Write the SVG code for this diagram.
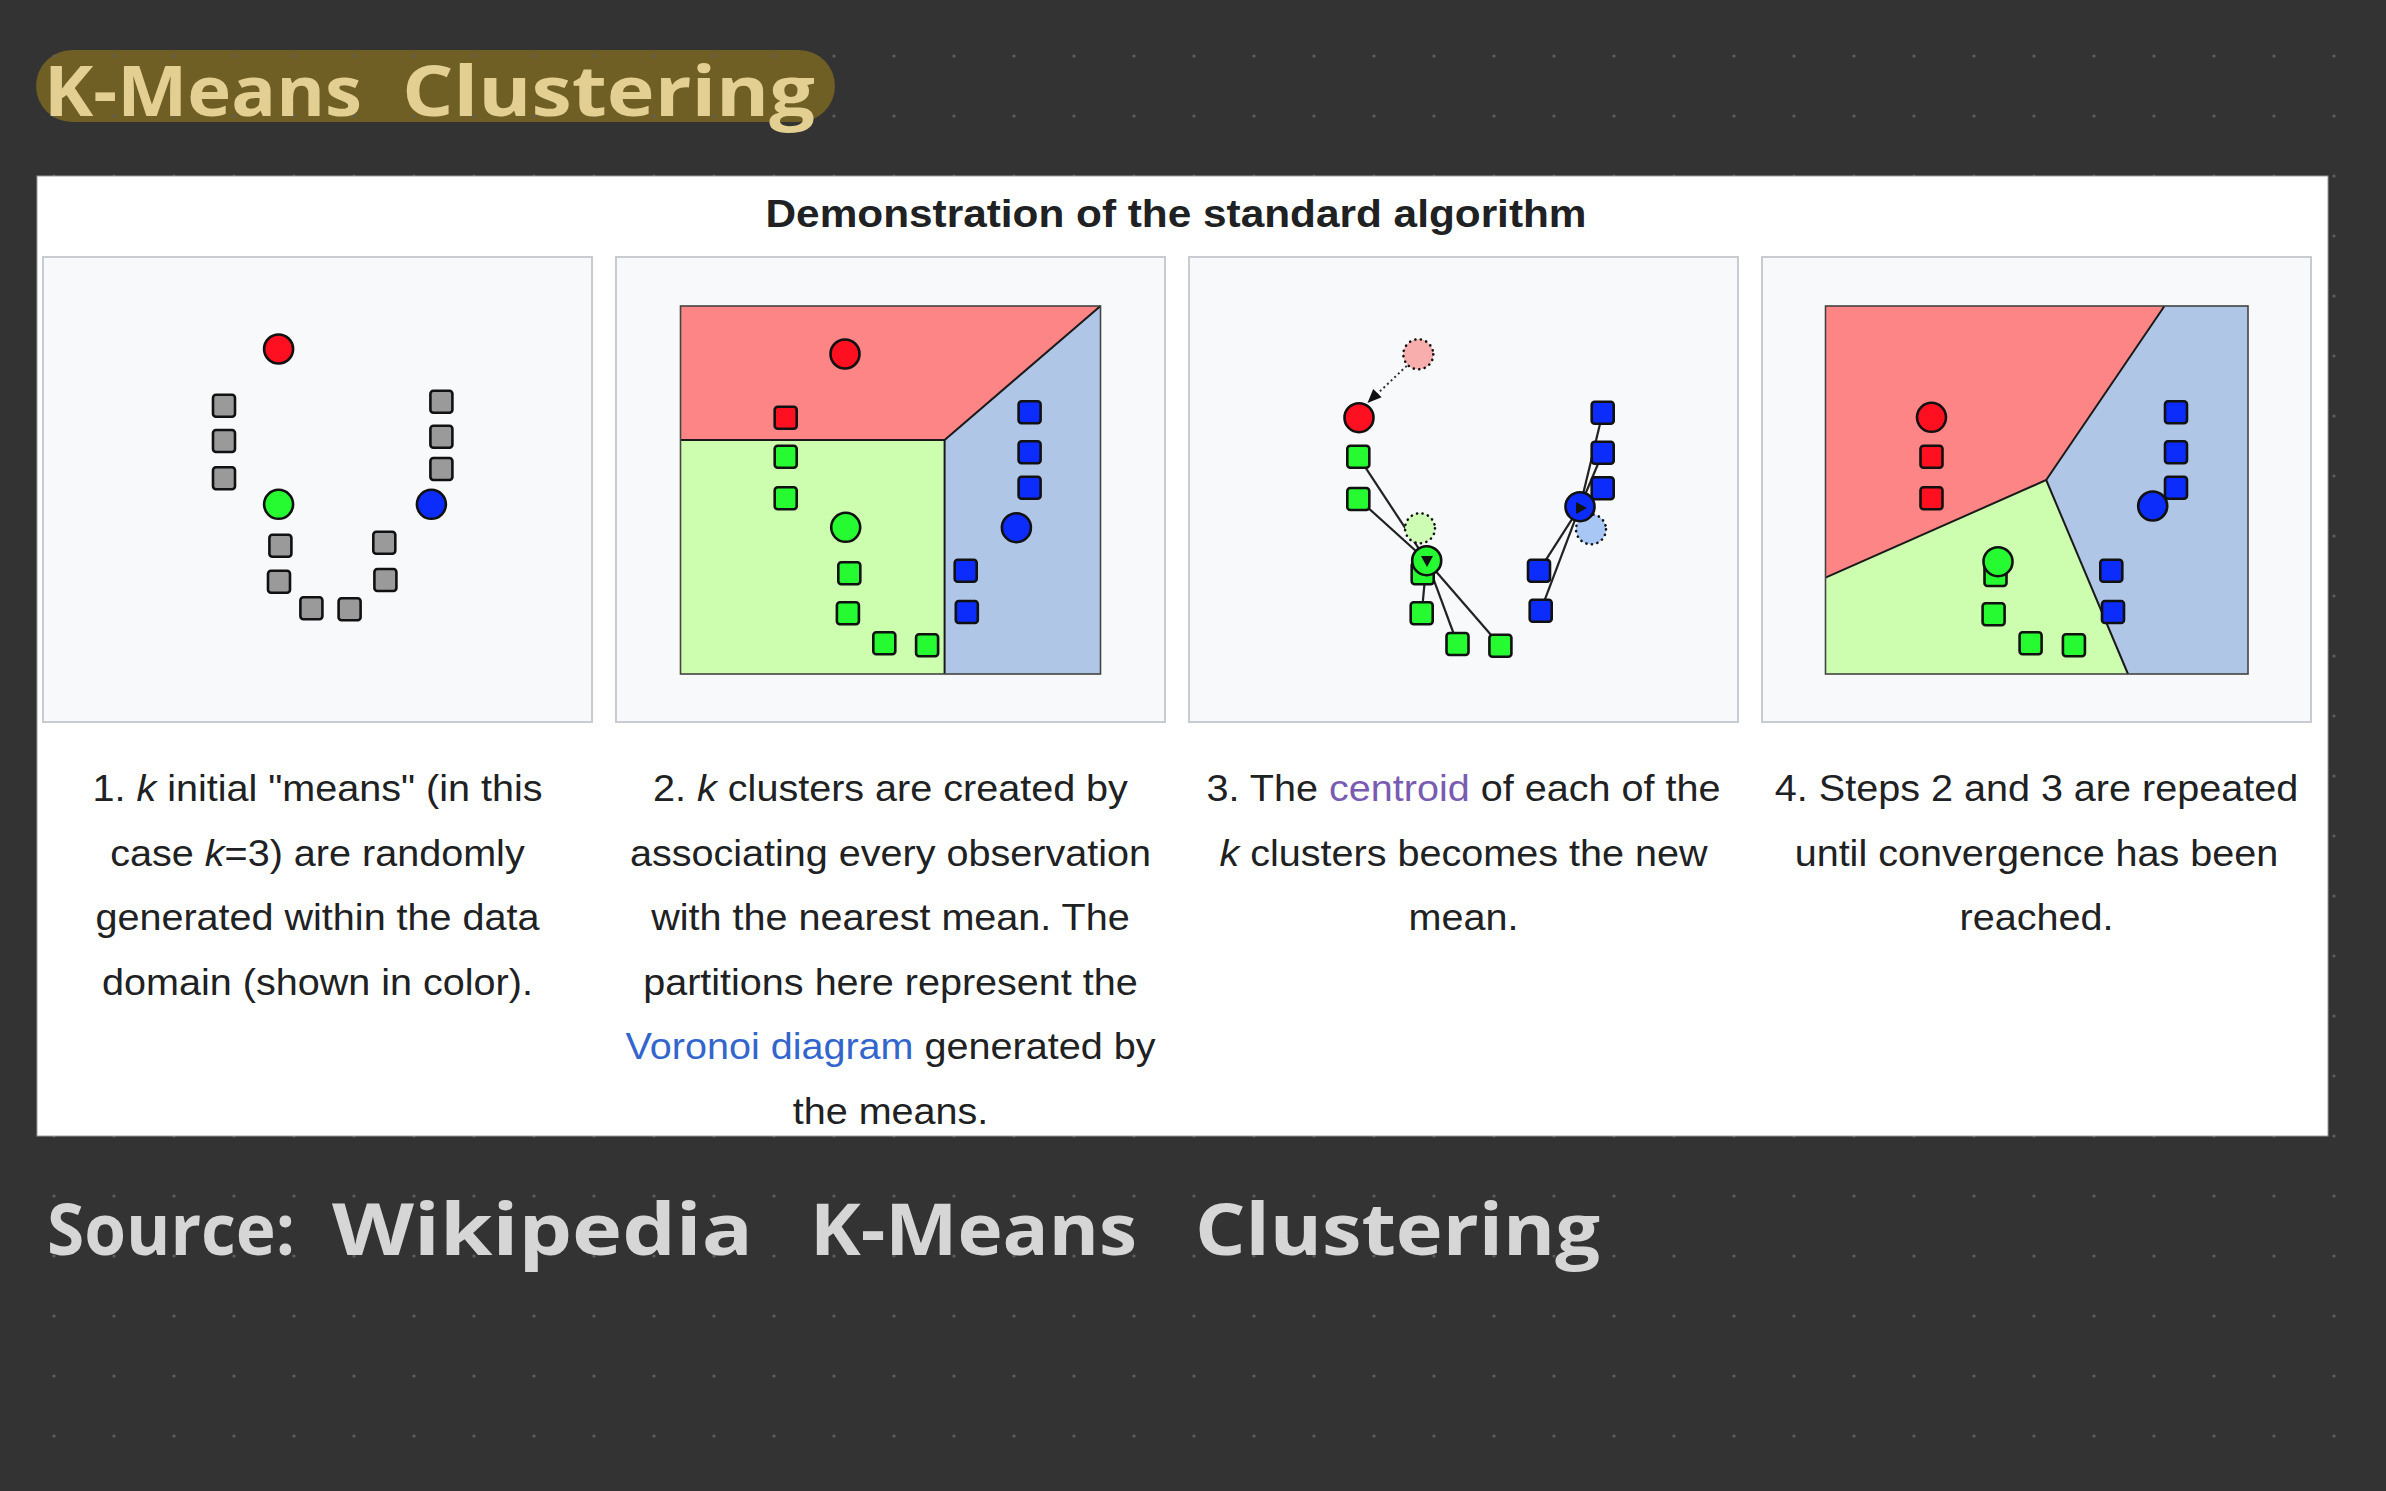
<svg xmlns="http://www.w3.org/2000/svg" width="2386" height="1491" viewBox="0 0 2386 1491">
<defs>
<style>
.hand{font-family:"Open Sans","DejaVu Sans",sans-serif;font-weight:700}
.cap{font-family:"Liberation Sans",Arial,sans-serif;font-size:37.5px;fill:#202122;text-anchor:middle}
.frame{fill:#f8f9fa;stroke:#c8ccd1;stroke-width:2}
.sq{stroke:#111;stroke-width:2.6}
.ct{stroke:#111;stroke-width:2.6}
.g{fill:#9a9a9a}.r{fill:#ff1020}.gr{fill:#25fb30}.b{fill:#0c2cfb}
.vr{fill:#fe8585}.vg{fill:#cdfdae}.vb{fill:#b0c6e6}
.vline{stroke:#1a1a1a;stroke-width:2;fill:none}
.vbox{fill:none;stroke:#444;stroke-width:1.6}
.link{stroke:#222;stroke-width:2.2}
.ghost{stroke:#111;stroke-width:2.6;stroke-dasharray:0.1 5.5;stroke-linecap:round}
</style>
<pattern id="dots" x="0" y="0" width="60" height="60" patternUnits="userSpaceOnUse">
<circle cx="54" cy="56" r="1.6" fill="#5e5e5e"/>
</pattern>
</defs>
<rect width="2386" height="1491" fill="#333333"/>
<rect x="36" y="50" width="799" height="72" rx="36" fill="#6f5f24"/>
<rect width="2386" height="1491" fill="url(#dots)"/>
<g id="header">
<text class="hand" y="116" font-size="70" fill="#e2cf91"><tspan x="44" textLength="318" lengthAdjust="spacingAndGlyphs">K-Means</tspan><tspan x="402" textLength="413" lengthAdjust="spacingAndGlyphs">Clustering</tspan></text>
</g>
<g id="card">
<rect x="37" y="176" width="2291" height="960" fill="#ffffff" stroke="#9a9a9a" stroke-width="1"/>
<text x="1176" y="227" font-family="'Liberation Sans',Arial,sans-serif" font-weight="700" font-size="39" fill="#202122" text-anchor="middle" textLength="821" lengthAdjust="spacingAndGlyphs">Demonstration of the standard algorithm</text>
</g>

<g id="panel1">
<rect class="frame" x="43" y="257" width="549" height="465"/>
<g class="sq g">
<rect x="213" y="394.7" width="22" height="22" rx="3"/>
<rect x="213" y="430" width="22" height="22" rx="3"/>
<rect x="213" y="467.3" width="22" height="22" rx="3"/>
<rect x="430.4" y="390.7" width="22" height="22" rx="3"/>
<rect x="430.4" y="425.7" width="22" height="22" rx="3"/>
<rect x="430.4" y="458" width="22" height="22" rx="3"/>
<rect x="269.4" y="534.7" width="22" height="22" rx="3"/>
<rect x="268" y="570.7" width="22" height="22" rx="3"/>
<rect x="300.4" y="597.3" width="22" height="22" rx="3"/>
<rect x="338.6" y="598.3" width="22" height="22" rx="3"/>
<rect x="373.3" y="531.7" width="22" height="22" rx="3"/>
<rect x="374.4" y="569" width="22" height="22" rx="3"/>
</g>
<circle class="ct r" cx="278.6" cy="349" r="14.5"/>
<circle class="ct gr" cx="278.6" cy="504.3" r="14.5"/>
<circle class="ct b" cx="431.4" cy="504.3" r="14.5"/>
</g>

<g id="panel2">
<rect class="frame" x="616" y="257" width="549" height="465"/>
<polygon class="vr" points="680.5,306 1100.5,306 944.6,440 680.5,440"/>
<polygon class="vg" points="680.5,440 944.6,440 944.6,674 680.5,674"/>
<polygon class="vb" points="1100.5,306 1100.5,674 944.6,674 944.6,440"/>
<polyline class="vline" points="680.5,440 944.6,440 1100.5,306"/>
<line class="vline" x1="944.6" y1="440" x2="944.6" y2="674"/>
<rect class="vbox" x="680.5" y="306" width="420" height="368"/>
<g class="sq">
<rect class="r" x="774.7" y="406.7" width="22" height="22" rx="3"/>
<rect class="gr" x="774.7" y="445.7" width="22" height="22" rx="3"/>
<rect class="gr" x="774.7" y="487.3" width="22" height="22" rx="3"/>
<rect class="gr" x="838.3" y="562.3" width="22" height="22" rx="3"/>
<rect class="gr" x="836.9" y="602.3" width="22" height="22" rx="3"/>
<rect class="gr" x="873.3" y="632.3" width="22" height="22" rx="3"/>
<rect class="gr" x="916.1" y="634.3" width="22" height="22" rx="3"/>
<rect class="b" x="1018.6" y="401.3" width="22" height="22" rx="3"/>
<rect class="b" x="1018.6" y="441.3" width="22" height="22" rx="3"/>
<rect class="b" x="1018.6" y="476.7" width="22" height="22" rx="3"/>
<rect class="b" x="954.7" y="559.7" width="22" height="22" rx="3"/>
<rect class="b" x="955.8" y="601" width="22" height="22" rx="3"/>
</g>
<circle class="ct r" cx="845" cy="354" r="14.5"/>
<circle class="ct gr" cx="845.7" cy="527.3" r="14.5"/>
<circle class="ct b" cx="1016.4" cy="527.7" r="14.5"/>
</g>

<g id="panel3">
<rect class="frame" x="1189" y="257" width="549" height="465"/>
</g>
<g id="connectors">
<line class="link" x1="1426.7" y1="560.7" x2="1358.3" y2="456.7"/>
<line class="link" x1="1426.7" y1="560.7" x2="1358.3" y2="499"/>
<line class="link" x1="1426.7" y1="560.7" x2="1421.7" y2="613.3"/>
<line class="link" x1="1426.7" y1="560.7" x2="1457.5" y2="644"/>
<line class="link" x1="1426.7" y1="560.7" x2="1500.4" y2="645.7"/>
<line class="link" x1="1580" y1="506.7" x2="1602.7" y2="412.7"/>
<line class="link" x1="1580" y1="506.7" x2="1602.7" y2="452.7"/>
<line class="link" x1="1580" y1="506.7" x2="1602.7" y2="488.3"/>
<line class="link" x1="1580" y1="506.7" x2="1539" y2="570.7"/>
<line class="link" x1="1580" y1="506.7" x2="1540.7" y2="610.7"/>
<line x1="1414" y1="359" x2="1375" y2="396" stroke="#333" stroke-width="2" stroke-dasharray="2 3"/>
<polygon points="1367.5,403 1381.6,397.3 1373.2,388.9" fill="#111"/>
</g>
<g id="panel3-points">
<circle class="ghost" cx="1418.3" cy="354.3" r="15" fill="#f9aeae"/>
<circle class="ghost" cx="1420" cy="528.3" r="15" fill="#cdfcb4"/>
<circle class="ghost" cx="1591" cy="529.3" r="15" fill="#a9c7f5"/>
<g class="sq">
<rect class="gr" x="1347.3" y="445.7" width="22" height="22" rx="3"/>
<rect class="gr" x="1347.3" y="488" width="22" height="22" rx="3"/>
<rect class="gr" x="1411.7" y="562.3" width="22" height="22" rx="3"/>
<rect class="gr" x="1410.7" y="602.3" width="22" height="22" rx="3"/>
<rect class="gr" x="1446.5" y="633" width="22" height="22" rx="3"/>
<rect class="gr" x="1489.4" y="634.7" width="22" height="22" rx="3"/>
<rect class="b" x="1591.7" y="401.7" width="22" height="22" rx="3"/>
<rect class="b" x="1591.7" y="441.7" width="22" height="22" rx="3"/>
<rect class="b" x="1591.7" y="477.3" width="22" height="22" rx="3"/>
<rect class="b" x="1528" y="559.7" width="22" height="22" rx="3"/>
<rect class="b" x="1529.7" y="599.7" width="22" height="22" rx="3"/>
</g>
<circle class="ct r" cx="1359" cy="417.7" r="14.5"/>
<circle class="ct gr" cx="1426.7" cy="560.7" r="14.5"/>
<circle class="ct b" cx="1580" cy="506.7" r="14.5"/>
<polygon points="1421,556 1433,556 1427,567" fill="#111"/>
<polygon points="1576,502 1576,514 1587,508" fill="#111"/>
</g>

<g id="panel4">
<rect class="frame" x="1762" y="257" width="549" height="465"/>
<polygon class="vr" points="1825.5,306 2164.5,306 2046.2,480 1825.5,577.7"/>
<polygon class="vb" points="2164.5,306 2248,306 2248,674 2128,674 2046.2,480"/>
<polygon class="vg" points="1825.5,577.7 2046.2,480 2128,674 1825.5,674"/>
<polyline class="vline" points="1825.5,577.7 2046.2,480 2164.5,306"/>
<line class="vline" x1="2046.2" y1="480" x2="2128" y2="674"/>
<rect class="vbox" x="1825.5" y="306" width="422.5" height="368"/>
<g class="sq">
<rect class="r" x="1920.5" y="445.7" width="22" height="22" rx="3"/>
<rect class="r" x="1920.5" y="487.3" width="22" height="22" rx="3"/>
<rect class="gr" x="1984.5" y="564" width="22" height="22" rx="3"/>
<rect class="gr" x="1982.6" y="603.3" width="22" height="22" rx="3"/>
<rect class="gr" x="2019.6" y="632.3" width="22" height="22" rx="3"/>
<rect class="gr" x="2062.9" y="634.3" width="22" height="22" rx="3"/>
<rect class="b" x="2165" y="401.3" width="22" height="22" rx="3"/>
<rect class="b" x="2165" y="441.3" width="22" height="22" rx="3"/>
<rect class="b" x="2165" y="476.7" width="22" height="22" rx="3"/>
<rect class="b" x="2100.3" y="559.7" width="22" height="22" rx="3"/>
<rect class="b" x="2102" y="601" width="22" height="22" rx="3"/>
</g>
<circle class="ct r" cx="1931.5" cy="417.3" r="14.5"/>
<circle class="ct gr" cx="1998" cy="561.7" r="14.5"/>
<circle class="ct b" cx="2152.7" cy="506" r="14.5"/>
</g>

<g id="caption1" transform="translate(317.5 0) scale(1.055 1) translate(-317.5 0)">
<text class="cap" x="317.5" y="801.5">1. <tspan font-style="italic">k</tspan> initial "means" (in this</text>
<text class="cap" x="317.5" y="866">case <tspan font-style="italic">k</tspan>=3) are randomly</text>
<text class="cap" x="317.5" y="930.5">generated within the data</text>
<text class="cap" x="317.5" y="995">domain (shown in color).</text>
</g>
<g id="caption2" transform="translate(890.5 0) scale(1.055 1) translate(-890.5 0)">
<text class="cap" x="890.5" y="801.5">2. <tspan font-style="italic">k</tspan> clusters are created by</text>
<text class="cap" x="890.5" y="866">associating every observation</text>
<text class="cap" x="890.5" y="930.5">with the nearest mean. The</text>
<text class="cap" x="890.5" y="995">partitions here represent the</text>
<text class="cap" x="890.5" y="1059.5"><tspan fill="#3366cc">Voronoi diagram</tspan> generated by</text>
<text class="cap" x="890.5" y="1124">the means.</text>
</g>
<g id="caption3" transform="translate(1463.5 0) scale(1.055 1) translate(-1463.5 0)">
<text class="cap" x="1463.5" y="801.5">3. The <tspan fill="#795cb2">centroid</tspan> of each of the</text>
<text class="cap" x="1463.5" y="866"><tspan font-style="italic">k</tspan> clusters becomes the new</text>
<text class="cap" x="1463.5" y="930.5">mean.</text>
</g>
<g id="caption4" transform="translate(2036.5 0) scale(1.055 1) translate(-2036.5 0)">
<text class="cap" x="2036.5" y="801.5">4. Steps 2 and 3 are repeated</text>
<text class="cap" x="2036.5" y="866">until convergence has been</text>
<text class="cap" x="2036.5" y="930.5">reached.</text>
</g>

<g id="footer">
<text class="hand" y="1255" font-size="72" fill="#d6d6d6"><tspan x="47" textLength="248" lengthAdjust="spacingAndGlyphs">Source:</tspan><tspan x="332" textLength="421" lengthAdjust="spacingAndGlyphs">Wikipedia</tspan><tspan x="810" textLength="327" lengthAdjust="spacingAndGlyphs">K-Means</tspan><tspan x="1195" textLength="405" lengthAdjust="spacingAndGlyphs">Clustering</tspan></text>
</g>
</svg>
